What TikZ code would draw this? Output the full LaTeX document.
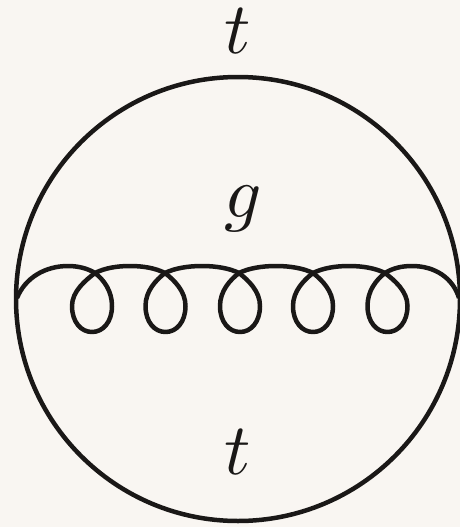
\documentclass[tikz,border=0pt]{standalone}
\usepackage{amsmath, amsfonts, amssymb}
\usetikzlibrary{calc}
\definecolor{paper}{HTML}{F9F6F2}
\definecolor{ink}{HTML}{1A1817}

\begin{document}
\begin{tikzpicture}[x=1pt, y=-1pt, line join=round, every node/.style={scale=7.3, inner sep=0pt, text=ink}, prop/.style={draw=ink, line width=4.5pt}]
        % Define the page
        \fill[paper] (0,0) rectangle (460,527);
        \useasboundingbox (0,0) rectangle (460,527);

        % Define the centre and the radius of the loop
        \coordinate (C) at (238,299);
        \def\radius{222pt}

        % Draw the top quark loop
        \draw[prop] (C) circle (\radius);

        % Draw the gluon ends at the wall
        \coordinate (L) at (17,298);
        \coordinate (R) at (459,298);
        \coordinate (LT) at (68,266);
        \coordinate (RT) at (412,266);
        \draw[prop] (L) .. controls (25,278) and (45,266) .. (LT)
          .. controls (77,266) and (87,268) .. (95,273);
        \draw[prop] (385,273) .. controls (393,268) and (402,266) .. (RT)
          .. controls (435,266) and (453,278) .. (R);

        % Draw the coils (crossing / middle of the coil)
        \foreach \x/\c in {95/92,165/165.5,239/240,313/313,385/387.5} {
          \draw[prop] (\x,273) .. controls ({\x+9},280) and ({\c+20},291) .. ({\c+20},306)
            .. controls ({\c+20},322) and ({\c+11},332) .. (\c,332)
            .. controls ({\c-11},332) and ({\c-20},322) .. ({\c-20},306)
            .. controls ({\c-20},291) and ({\x-9},280) .. (\x,273);
        }
        % Arcs between the coils
        \foreach \x/\n in {95/165,165/239,239/313,313/385} {
          \pgfmathsetmacro\m{(\x+\n)/2}
          \draw[prop] (\x,273) .. controls ({\x+10},268) and ({\m-13},266) .. (\m,266)
            .. controls ({\m+13},266) and ({\n-10},268) .. (\n,273);
        }

        % Labels
        \node (topq) at (238,31) {$t$};
        \node (glu) at (243,209) {$g$};
        \node (botq) at (238,452) {$t$};
      \end{tikzpicture}
\end{document}
